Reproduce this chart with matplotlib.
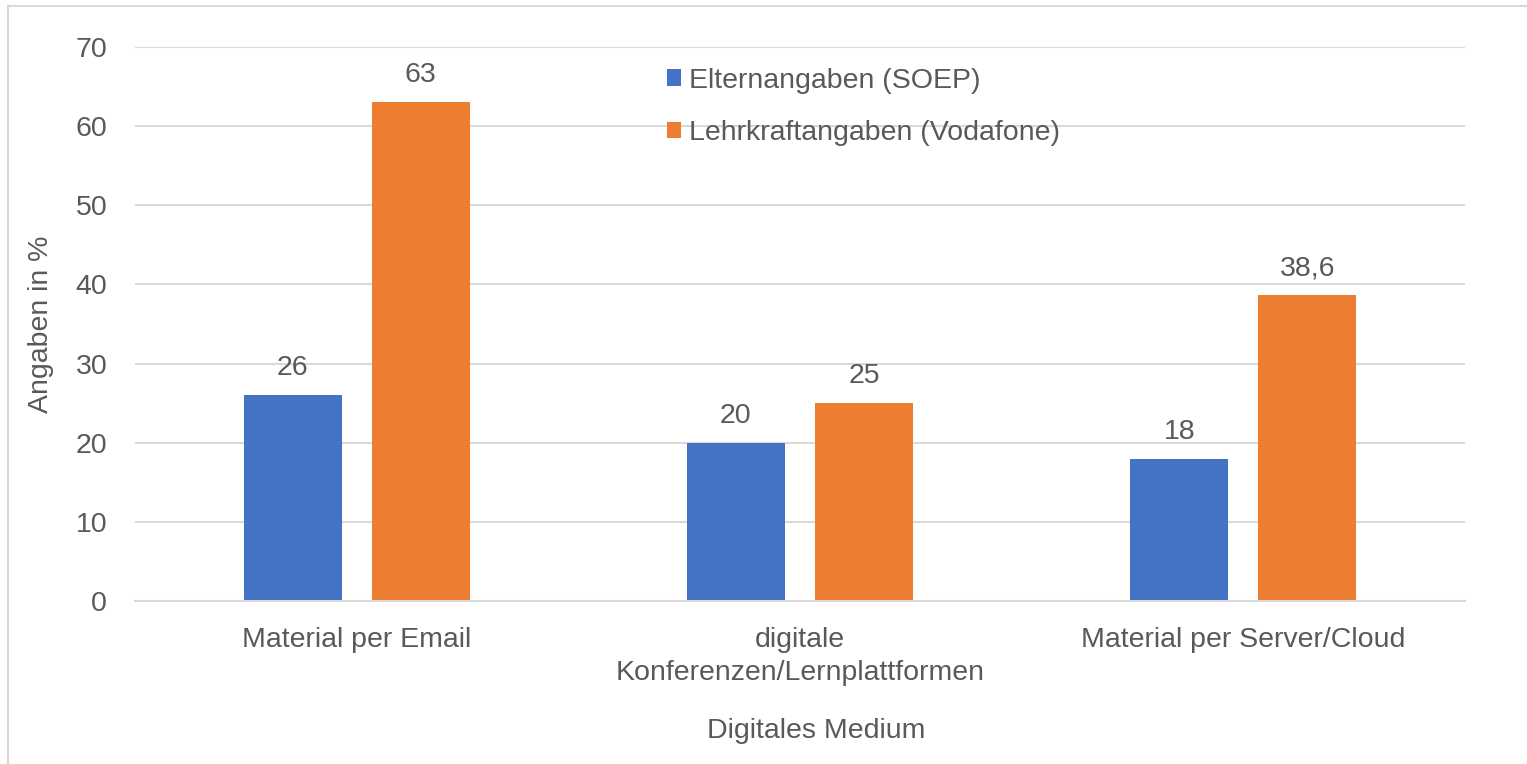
import matplotlib.pyplot as plt
import numpy as np

# Data
categories = ['Material per Email', 'digitale\nKonferenzen/Lernplattformen', 'Material per Server/Cloud']
eltern = [26, 20, 18]
lehrkraft = [63, 25, 38.6]
series_names = ['Elternangaben (SOEP)', 'Lehrkraftangaben (Vodafone)']

blue = '#4472C4'
orange = '#ED7D31'
grey_txt = '#595959'
grid_col = '#D9D9D9'
fs = 20.5

plt.rcParams['font.family'] = ['Liberation Sans', 'DejaVu Sans']

fig = plt.figure(figsize=(15.27, 7.64), dpi=100)
ax = fig.add_axes([0.0884, 0.2134, 0.9594 - 0.0884, 0.9385 - 0.2134])

x = np.arange(len(categories))
w = 0.221
off = 0.1445

b1 = ax.bar(x - off, eltern, w, color=blue, label=series_names[0], zorder=3)
b2 = ax.bar(x + off, lehrkraft, w, color=orange, label=series_names[1], zorder=3)

# data labels (German decimal comma)
def fmt(v):
    return ('%g' % v).replace('.', ',')

ax.bar_label(b1, labels=[fmt(v) for v in eltern], padding=10, fontsize=fs, color=grey_txt)
ax.bar_label(b2, labels=[fmt(v) for v in lehrkraft], padding=10, fontsize=fs, color=grey_txt)

ax.set_xlim(-0.5, 2.5)
ax.set_ylim(0, 70)
ax.set_yticks(range(0, 71, 10))
ax.set_xticks(x)
ax.set_xticklabels(categories, linespacing=1.38)
ax.tick_params(axis='both', length=0, labelsize=fs, colors=grey_txt)
ax.tick_params(axis='y', pad=20)
ax.tick_params(axis='x', pad=18.5)

ax.grid(axis='y', color=grid_col, linewidth=1.5, zorder=0)
for s in ['top', 'right', 'left']:
    ax.spines[s].set_visible(False)
ax.spines['bottom'].set_color(grid_col)
ax.spines['bottom'].set_linewidth(1.5)
ax.spines['bottom'].set_zorder(4)

ax.set_ylabel('Angaben in %', fontsize=fs, color=grey_txt, va='center')
ax.yaxis.set_label_coords((41 - 135) / 1330, 0.5)
ax.set_xlabel('Digitales Medium', fontsize=fs, color=grey_txt, va='center')
ax.xaxis.set_label_coords((816 - 135) / 1330, -(731 - 601) / 554)

leg = ax.legend(loc='upper left', bbox_to_anchor=(641 / 1527, 1 - 42 / 764),
                bbox_transform=fig.transFigure, frameon=False, fontsize=fs,
                handlelength=0.5, handleheight=0.5, handletextpad=0.3,
                labelspacing=0.92, labelcolor=grey_txt)

# light border of the chart area (left and top visible)
fig.add_artist(plt.Line2D([8 / 1527, 8 / 1527], [0, 1 - 6 / 764], transform=fig.transFigure,
                          color=grid_col, linewidth=1.5))
fig.add_artist(plt.Line2D([8 / 1527, 1], [1 - 6 / 764, 1 - 6 / 764], transform=fig.transFigure,
                          color=grid_col, linewidth=1.5))

fig.savefig('out.png', dpi=100)
